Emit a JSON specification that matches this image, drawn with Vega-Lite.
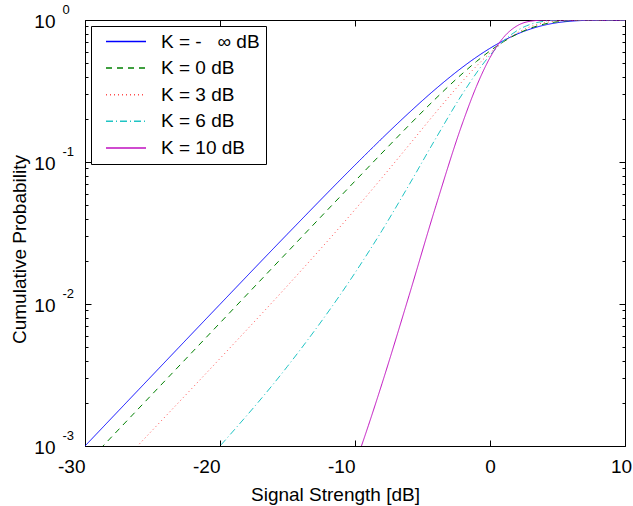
{
  "$schema": "https://vega.github.io/schema/vega-lite/v6.json",
  "width": 540,
  "height": 426,
  "autosize": "none",
  "padding": {"left": 85, "top": 20, "right": 8, "bottom": 60},
  "config": {
    "font": "Liberation Sans",
    "view": {"stroke": null},
    "axis": {
      "domainColor": "black", "tickColor": "black", "domainWidth": 1, "tickWidth": 1,
      "grid": false, "labelColor": "black", "titleColor": "black",
      "labelFont": "Liberation Sans", "titleFont": "Liberation Sans",
      "titleFontWeight": "normal", "labelFontSize": 19, "titleFontSize": 19
    }
  },
  "data": {
    "values": [
      {"K": "K = -∞ dB", "x": -30, "p": 0.0009995},
      {"K": "K = -∞ dB", "x": -25, "p": 0.003157},
      {"K": "K = -∞ dB", "x": -20, "p": 0.00995},
      {"K": "K = -∞ dB", "x": -15, "p": 0.03113},
      {"K": "K = -∞ dB", "x": -10, "p": 0.09516},
      {"K": "K = -∞ dB", "x": -8, "p": 0.1466},
      {"K": "K = -∞ dB", "x": -6, "p": 0.2221},
      {"K": "K = -∞ dB", "x": -4, "p": 0.3284},
      {"K": "K = -∞ dB", "x": -2, "p": 0.4679},
      {"K": "K = -∞ dB", "x": -1, "p": 0.5481},
      {"K": "K = -∞ dB", "x": 0, "p": 0.6321},
      {"K": "K = -∞ dB", "x": 1, "p": 0.716},
      {"K": "K = -∞ dB", "x": 2, "p": 0.795},
      {"K": "K = -∞ dB", "x": 3, "p": 0.864},
      {"K": "K = -∞ dB", "x": 4, "p": 0.9189},
      {"K": "K = -∞ dB", "x": 5, "p": 0.9577},
      {"K": "K = -∞ dB", "x": 6, "p": 0.9813},
      {"K": "K = -∞ dB", "x": 7, "p": 0.9933},
      {"K": "K = -∞ dB", "x": 8, "p": 0.9982},
      {"K": "K = -∞ dB", "x": 9, "p": 0.99965},
      {"K": "K = -∞ dB", "x": 10, "p": 0.99995},

      {"K": "K = 0 dB", "x": -30, "p": 0.000736},
      {"K": "K = 0 dB", "x": -25, "p": 0.002327},
      {"K": "K = 0 dB", "x": -20, "p": 0.007357},
      {"K": "K = 0 dB", "x": -15, "p": 0.02326},
      {"K": "K = 0 dB", "x": -10, "p": 0.07335},
      {"K": "K = 0 dB", "x": -8, "p": 0.11574},
      {"K": "K = 0 dB", "x": -6, "p": 0.1815},
      {"K": "K = 0 dB", "x": -4, "p": 0.281},
      {"K": "K = 0 dB", "x": -2, "p": 0.4233},
      {"K": "K = 0 dB", "x": -1, "p": 0.5106},
      {"K": "K = 0 dB", "x": 0, "p": 0.6056},
      {"K": "K = 0 dB", "x": 1, "p": 0.7033},
      {"K": "K = 0 dB", "x": 2, "p": 0.7963},
      {"K": "K = 0 dB", "x": 3, "p": 0.8759},
      {"K": "K = 0 dB", "x": 4, "p": 0.9354},
      {"K": "K = 0 dB", "x": 5, "p": 0.9726},
      {"K": "K = 0 dB", "x": 6, "p": 0.9911},
      {"K": "K = 0 dB", "x": 8, "p": 0.9997},
      {"K": "K = 0 dB", "x": 10, "p": 1.0},

      {"K": "K = 3 dB", "x": -27, "p": 0.000815},
      {"K": "K = 3 dB", "x": -25, "p": 0.001294},
      {"K": "K = 3 dB", "x": -20, "p": 0.004133},
      {"K": "K = 3 dB", "x": -15, "p": 0.013468},
      {"K": "K = 3 dB", "x": -10, "p": 0.046209},
      {"K": "K = 3 dB", "x": -8, "p": 0.077487},
      {"K": "K = 3 dB", "x": -6, "p": 0.13164},
      {"K": "K = 3 dB", "x": -4, "p": 0.22441},
      {"K": "K = 3 dB", "x": -2, "p": 0.37433},
      {"K": "K = 3 dB", "x": -1, "p": 0.47358},
      {"K": "K = 3 dB", "x": 0, "p": 0.5854},
      {"K": "K = 3 dB", "x": 1.25, "p": 0.73},
      {"K": "K = 3 dB", "x": 2, "p": 0.8101},
      {"K": "K = 3 dB", "x": 3, "p": 0.89745},
      {"K": "K = 3 dB", "x": 4, "p": 0.95557},
      {"K": "K = 3 dB", "x": 5, "p": 0.98561},
      {"K": "K = 3 dB", "x": 6, "p": 0.99686},
      {"K": "K = 3 dB", "x": 8, "p": 0.99998},
      {"K": "K = 3 dB", "x": 10, "p": 1.0},

      {"K": "K = 6 dB", "x": -22, "p": 0.000614},
      {"K": "K = 6 dB", "x": -20, "p": 0.000999},
      {"K": "K = 6 dB", "x": -15, "p": 0.003641},
      {"K": "K = 6 dB", "x": -10, "p": 0.016565},
      {"K": "K = 6 dB", "x": -8, "p": 0.032901},
      {"K": "K = 6 dB", "x": -6, "p": 0.0689},
      {"K": "K = 6 dB", "x": -4, "p": 0.14747},
      {"K": "K = 6 dB", "x": -2, "p": 0.30594},
      {"K": "K = 6 dB", "x": 0, "p": 0.56506},
      {"K": "K = 6 dB", "x": 1, "p": 0.71196},
      {"K": "K = 6 dB", "x": 2, "p": 0.84158},
      {"K": "K = 6 dB", "x": 3, "p": 0.93255},
      {"K": "K = 6 dB", "x": 4, "p": 0.97972},
      {"K": "K = 6 dB", "x": 5, "p": 0.9964},
      {"K": "K = 6 dB", "x": 6, "p": 0.99975},
      {"K": "K = 6 dB", "x": 8, "p": 1.0},
      {"K": "K = 6 dB", "x": 10, "p": 1.0},

      {"K": "K = 10 dB", "x": -10, "p": 0.000739},
      {"K": "K = 10 dB", "x": -9, "p": 0.0014013},
      {"K": "K = 10 dB", "x": -8, "p": 0.0027483},
      {"K": "K = 10 dB", "x": -6, "p": 0.011434},
      {"K": "K = 10 dB", "x": -4, "p": 0.049366},
      {"K": "K = 10 dB", "x": -2, "p": 0.19214},
      {"K": "K = 10 dB", "x": -1, "p": 0.34144},
      {"K": "K = 10 dB", "x": 0, "p": 0.5431},
      {"K": "K = 10 dB", "x": 1, "p": 0.75393},
      {"K": "K = 10 dB", "x": 2, "p": 0.90926},
      {"K": "K = 10 dB", "x": 3, "p": 0.9807},
      {"K": "K = 10 dB", "x": 4, "p": 0.9981},
      {"K": "K = 10 dB", "x": 5, "p": 0.99995},
      {"K": "K = 10 dB", "x": 6, "p": 1.0},
      {"K": "K = 10 dB", "x": 10, "p": 1.0}
    ]
  },
  "layer": [
    {
      "mark": {"type": "line", "clip": true, "strokeWidth": 1, "interpolate": "monotone"},
      "encoding": {
        "x": {
          "field": "x", "type": "quantitative",
          "scale": {"domain": [-30, 10], "nice": false, "zero": false},
          "axis": {
            "orient": "bottom", "values": [-30, -20, -10, 0, 10],
            "tickSize": -6, "labelPadding": 32, "labelBaseline": "alphabetic",
            "labelAlign": {"condition": {"test": "datum.value < 0", "value": "right"}, "value": "center"},
            "labelOffset": {"condition": {"test": "datum.value == 10", "value": -4}, "value": 0},
            "labelExpr": "'' + datum.value",
            "labelFlush": false, "labelOverlap": false,
            "title": "Signal Strength [dB]", "titleX": 250, "titleY": 54,
            "titleBaseline": "alphabetic", "titleAlign": "center"
          }
        },
        "y": {
          "field": "p", "type": "quantitative",
          "scale": {"type": "log", "domain": [0.001, 1], "nice": false},
          "axis": {
            "orient": "left",
            "values": [0.001, 0.002, 0.003, 0.004, 0.005, 0.006, 0.007, 0.008, 0.009, 0.01, 0.02, 0.03, 0.04, 0.05, 0.06, 0.07, 0.08, 0.09, 0.1, 0.2, 0.3, 0.4, 0.5, 0.6, 0.7, 0.8, 0.9, 1],
            "tickSize": {"condition": {"test": "datum.value == 0.001 || datum.value == 0.01 || datum.value == 0.1 || datum.value == 1", "value": -6}, "value": -3},
            "labelPadding": 36,
            "labelExpr": "(datum.value == 0.001 || datum.value == 0.01 || datum.value == 0.1 || datum.value == 1) ? '10' : ''",
            "labelAlign": "right", "labelBaseline": "middle", "labelOffset": 1,
            "labelFlush": false, "labelOverlap": false,
            "title": "Cumulative Probability", "titleX": -60, "titleY": 229,
            "titleAngle": 270, "titleBaseline": "alphabetic", "titleAlign": "center"
          }
        },
        "color": {
          "field": "K", "type": "nominal",
          "scale": {
            "domain": ["K = -∞ dB", "K = 0 dB", "K = 3 dB", "K = 6 dB", "K = 10 dB"],
            "range": ["#0000ff", "#008000", "#ff4d4d", "#1fc4c4", "#c010c0"]
          },
          "legend": {
            "orient": "none", "legendX": 6, "legendY": 6, "title": null,
            "strokeColor": "black", "fillColor": "white", "padding": 6,
            "labelFontSize": 19, "labelFont": "Liberation Sans", "labelColor": "black",
            "symbolType": "stroke", "symbolSize": 1600, "symbolStrokeWidth": 1.5,
            "labelOffset": 14, "rowPadding": 6.6, "symbolOffset": 8, "labelLimit": 300,
            "clipHeight": 19, "cornerRadius": 0,
            "labelExpr": "datum.label == 'K = -∞ dB' ? 'K = -\u00a0\u00a0\u00a0∞ dB\u00a0\u00a0\u00a0\u00a0\u00a0' : datum.label"
          }
        },
        "strokeDash": {
          "field": "K", "type": "nominal",
          "scale": {
            "domain": ["K = -∞ dB", "K = 0 dB", "K = 3 dB", "K = 6 dB", "K = 10 dB"],
            "range": [[1, 0], [6, 5], [1, 3], [7, 3, 1, 3], [1, 0]]
          },
          "legend": {
            "orient": "none", "legendX": 6, "legendY": 6, "title": null,
            "strokeColor": "black", "fillColor": "white", "padding": 6,
            "labelFontSize": 19, "labelFont": "Liberation Sans", "labelColor": "black",
            "symbolType": "stroke", "symbolSize": 1600, "symbolStrokeWidth": 1.5,
            "labelOffset": 14, "rowPadding": 6.6, "symbolOffset": 8, "labelLimit": 300,
            "clipHeight": 19, "cornerRadius": 0,
            "labelExpr": "datum.label == 'K = -∞ dB' ? 'K = -\u00a0\u00a0\u00a0∞ dB\u00a0\u00a0\u00a0\u00a0\u00a0' : datum.label"
          }
        }
      }
    },
    {
      "mark": {"type": "point", "opacity": 0},
      "encoding": {
        "x": {
          "field": "x", "type": "quantitative",
          "scale": {"domain": [-30, 10], "nice": false, "zero": false},
          "axis": {"orient": "top", "values": [-30, -20, -10, 0, 10], "tickSize": -6, "labels": false, "title": null}
        },
        "y": {
          "field": "p", "type": "quantitative",
          "scale": {"type": "log", "domain": [0.001, 1], "nice": false},
          "axis": {
            "orient": "right",
            "values": [0.001, 0.002, 0.003, 0.004, 0.005, 0.006, 0.007, 0.008, 0.009, 0.01, 0.02, 0.03, 0.04, 0.05, 0.06, 0.07, 0.08, 0.09, 0.1, 0.2, 0.3, 0.4, 0.5, 0.6, 0.7, 0.8, 0.9, 1],
            "tickSize": {"condition": {"test": "datum.value == 0.001 || datum.value == 0.01 || datum.value == 0.1 || datum.value == 1", "value": -6}, "value": -3},
            "labels": false, "title": null
          }
        }
      }
    },
    {
      "mark": {"type": "point", "opacity": 0},
      "encoding": {
        "x": {
          "field": "x", "type": "quantitative",
          "scale": {"domain": [-30, 10], "nice": false, "zero": false},
          "axis": null
        },
        "y": {
          "field": "p", "type": "quantitative",
          "scale": {"type": "log", "domain": [0.001, 1], "nice": false},
          "axis": {
            "orient": "left", "values": [0.001, 0.01, 0.1, 1],
            "domain": false, "tickSize": 0, "tickOpacity": 0,
            "labelPadding": 23, "labelAlign": "left", "labelBaseline": "middle",
            "labelOffset": -11, "labelFontSize": 13,
            "labelExpr": "'' + round(log(datum.value) / LN10)",
            "labelFlush": false, "labelOverlap": false, "title": null
          }
        }
      }
    }
  ],
  "resolve": {"axis": {"x": "independent", "y": "independent"}}
}
